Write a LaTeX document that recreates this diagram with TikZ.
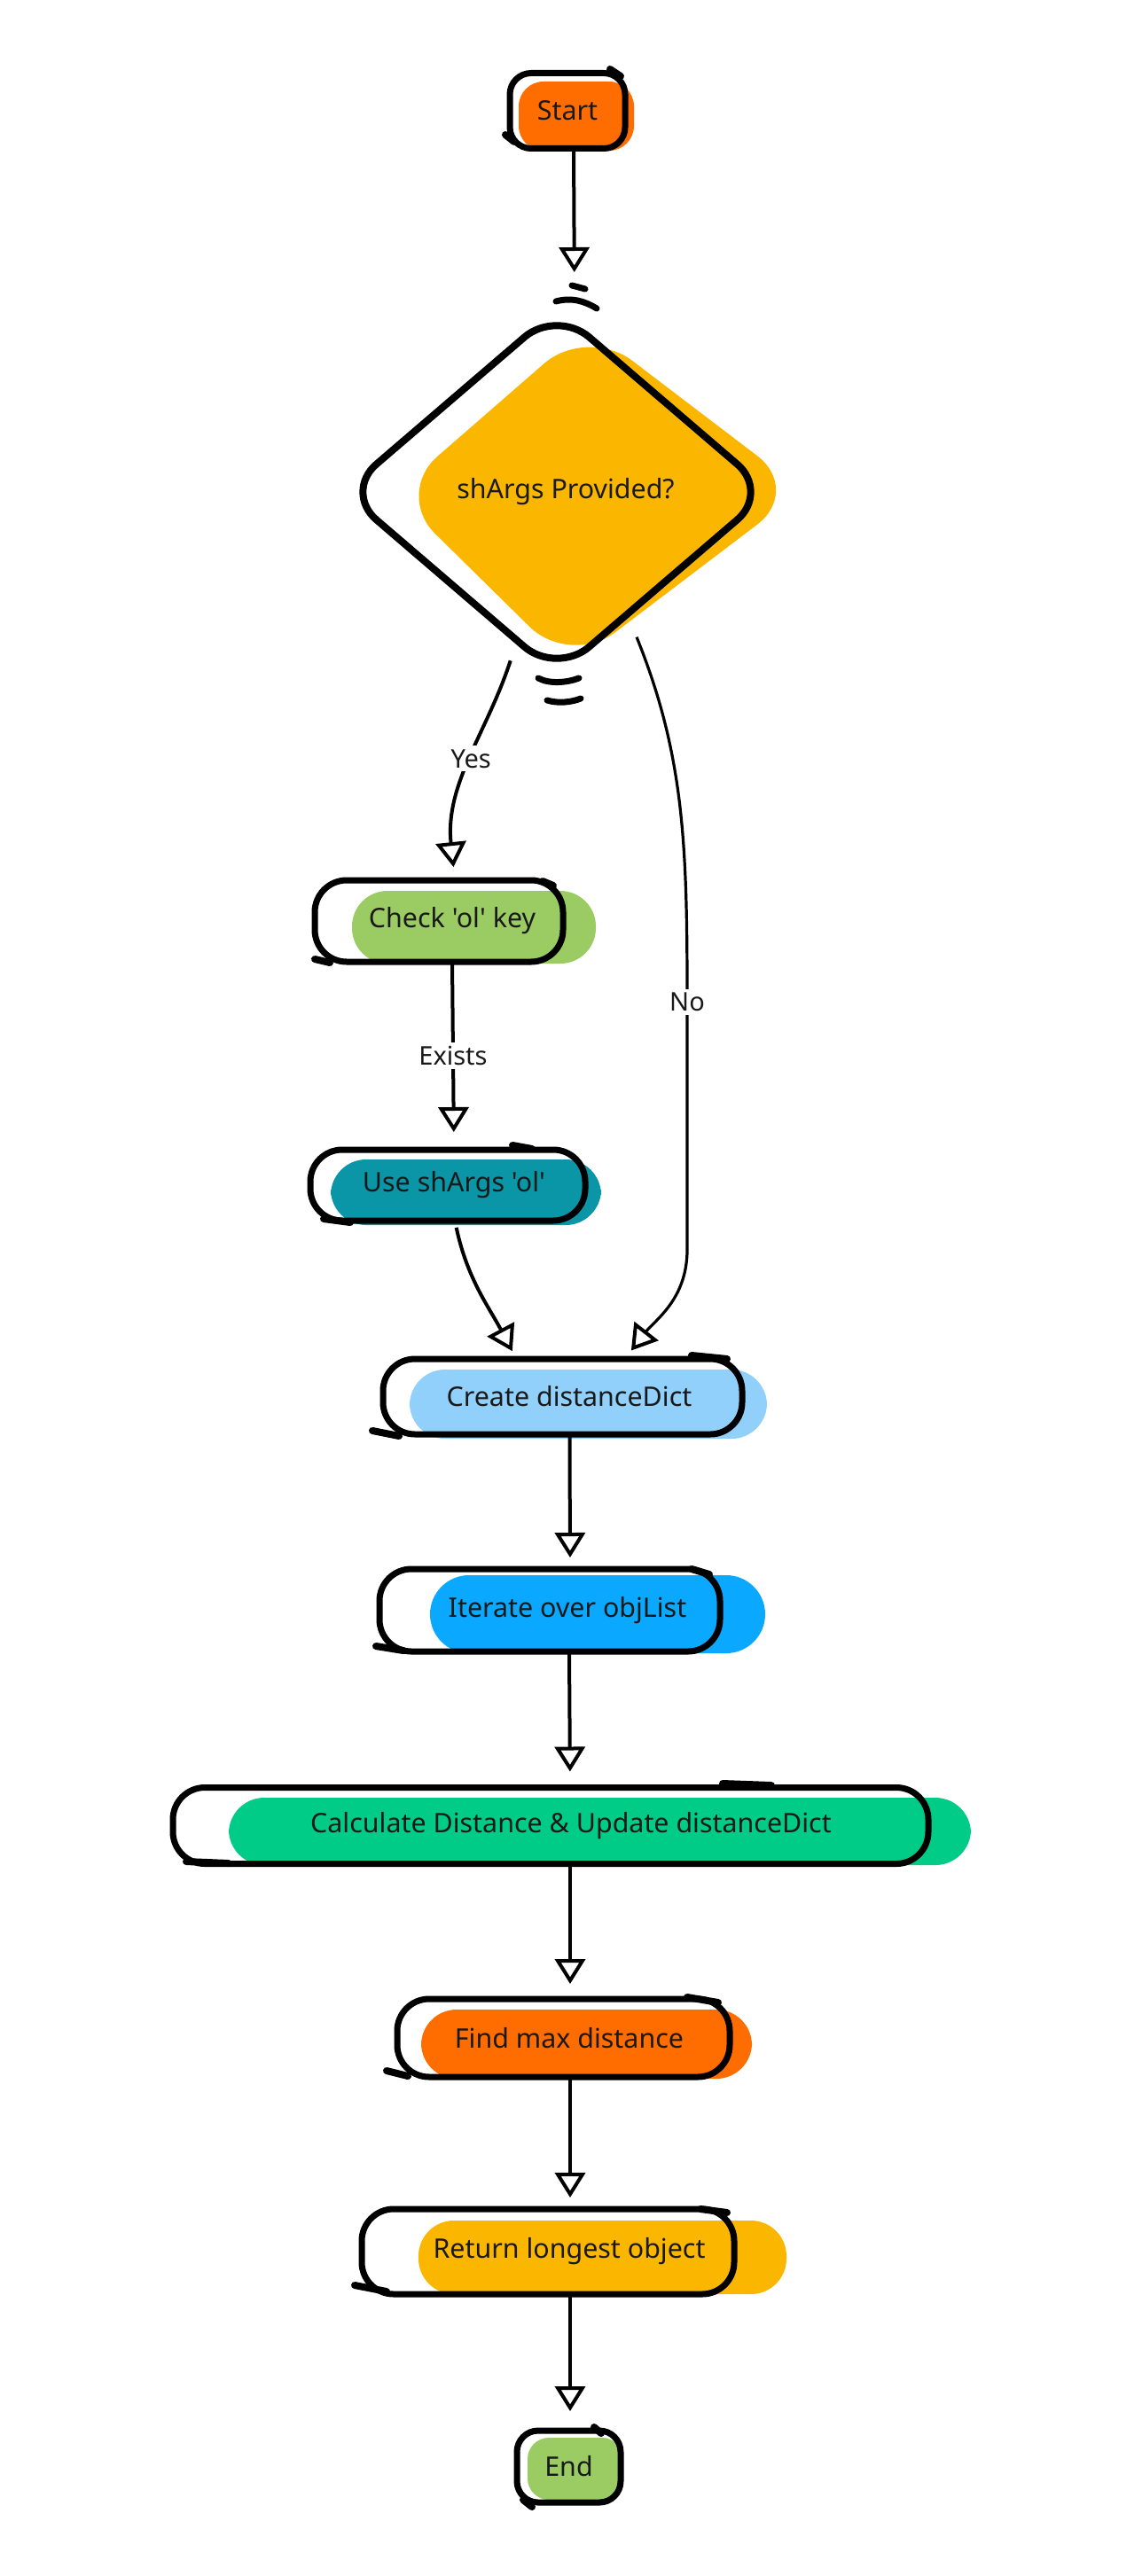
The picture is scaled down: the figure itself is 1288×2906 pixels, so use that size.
\documentclass[tikz,border=0pt]{standalone}
\usepackage{fontspec}
\setmainfont{Noto Sans}[Ligatures=TeXOff]
\usetikzlibrary{arrows.meta,shapes.geometric,calc}
\definecolor{corange}{HTML}{FF6C00}
\definecolor{camber}{HTML}{FBB700}
\definecolor{cgreen}{HTML}{9BCC64}
\definecolor{cteal}{HTML}{0A96A6}
\definecolor{clblue}{HTML}{90D0FA}
\definecolor{cblue}{HTML}{0AA8FF}
\definecolor{cmint}{HTML}{00CC88}
\begin{document}
\begin{tikzpicture}[x=0.5pt,y=-0.5pt,
  box/.style={draw=black, line width=3.5pt, rounded corners=18pt, inner sep=0pt, outer sep=0pt, font=\fontsize{15.2}{18}\selectfont, text=black!90},
  conn/.style={draw=black, line width=2pt, -{Triangle[open, length=14pt, width=17pt, line width=2pt]}},
  lbl/.style={fill=white, font=\fontsize{14.5}{17}\selectfont, inner sep=2pt, text=black!90},
  squig/.style={line width=3.5pt, line cap=round},
  tick/.style={line width=4pt, line cap=round}
]
\useasboundingbox (0,0) rectangle (1288,2906);

% fills (offset washes)
\fill[corange, rounded corners=14pt] (585,92) rectangle (715,170);
\fill[camber, rounded corners=32pt] (445,557) -- (662,368) -- (905,553) -- (643,752) -- cycle;
\fill[cgreen, rounded corners=20pt] (397,1005) rectangle (672,1087);
\fill[cteal, rounded corners=20pt] (373,1308) rectangle (678,1382);
\fill[clblue, rounded corners=20pt] (462,1545) rectangle (865,1623);
\fill[cblue, rounded corners=22pt] (485,1777) rectangle (863,1865);
\fill[cmint, rounded corners=20pt] (258,2028) rectangle (1095,2104);
\fill[corange, rounded corners=20pt] (475,2267) rectangle (848,2345);
\fill[camber, rounded corners=20pt] (472,2505) rectangle (887,2588);
\fill[cgreen, rounded corners=12pt] (595,2750) rectangle (703,2820);

% nodes
\node[box, minimum width=65pt, minimum height=42.5pt, rounded corners=12pt] (start) at (640,125) {Start};
\node[draw=black, diamond, line width=4pt, rounded corners=24pt, minimum width=240pt, minimum height=206pt, inner sep=0pt, outer sep=0pt, font=\fontsize{15.2}{18}\selectfont, text=black!90] (dec) at (628,555) {\hspace*{10pt}shArgs Provided?};
\node[box, minimum width=140pt, minimum height=46pt] (check) at (495,1039) {\hspace*{15pt}Check 'ol' key};
\node[box, minimum width=155pt, minimum height=40pt] (use) at (505,1337) {\hspace*{7pt}Use shArgs 'ol'};
\node[box, minimum width=202.5pt, minimum height=42.5pt] (create) at (634.5,1575.5) {\hspace*{7.5pt}Create distanceDict};
\node[box, minimum width=192pt, minimum height=46.5pt] (iter) at (620,1816.5) {\hspace*{20pt}Iterate over objList};
\node[box, minimum width=426pt, minimum height=43pt] (calc) at (621,2059.5) {\hspace*{23pt}Calculate Distance \& Update distanceDict};
\node[box, minimum width=187.5pt, minimum height=44pt] (find) at (635.5,2299) {\hspace*{6.5pt}Find max distance};
\node[box, minimum width=210pt, minimum height=48pt] (ret) at (618,2540) {\hspace*{24pt}Return longest object};
\node[box, minimum width=58.5pt, minimum height=40.5pt, rounded corners=12pt] (end) at (641.5,2782.5) {End};

% diamond sketch marks
\draw[squig] (627,340) .. controls (645,335) and (660,340) .. (673,348);
\draw[squig] (645,322) -- (660,326);
\draw[squig] (607,765) .. controls (620,772) and (640,770) .. (653,765);
\draw[squig] (617,790) .. controls (630,794) and (645,792) .. (655,788);

% box corner sketch ticks
\draw[tick] (688,78) -- (700,86);   \draw[tick] (570,152) -- (580,160);
\draw[tick] (612,994) -- (624,999);  \draw[tick] (355,1082) -- (372,1086);
\draw[tick] (578,1292) -- (600,1296); \draw[tick] (365,1375) -- (395,1379);
\draw[tick] (780,1529) -- (820,1533); \draw[tick] (420,1614) -- (450,1620);
\draw[tick] (780,1770) -- (800,1776); \draw[tick] (424,1857) -- (455,1862);
\draw[tick] (815,2012) -- (870,2014); \draw[tick] (210,2100) -- (258,2102);
\draw[tick] (775,2253) -- (810,2259); \draw[tick] (436,2336) -- (460,2342);
\draw[tick] (790,2492) -- (820,2496); \draw[tick] (400,2578) -- (436,2585);
\draw[tick] (670,2738) -- (678,2745); \draw[tick] (590,2820) -- (600,2828);

% connectors
\draw[conn, shorten >=21pt] ([xshift=3.5pt]start.south) -- ([xshift=10pt]dec.north);
\draw[conn, shorten <=12pt, shorten >=7.5pt] (dec.-105) to[out=-108,in=96] node[lbl] (yes) {Yes} ([xshift=9pt]check.north);
\draw[conn, shorten <=1pt, shorten >=10pt] ([xshift=7.5pt]check.south) -- node[lbl] (exists) {Exists} ([xshift=3.5pt]use.north);
\draw[conn, shorten <=4pt, shorten >=5pt] ([xshift=4pt]use.south) to[out=-78,in=118] ([xshift=-26pt]create.north);
\coordinate (nob) at (775,1130);
\coordinate (nob2) at (775,1410);
\draw[conn, line width=1.6pt, shorten <=14pt, shorten >=6pt] (dec.-60) to[out=-68,in=90] (nob) -- (nob2) to[out=-90,in=52] ([xshift=35pt]create.north);
\node[lbl] (no) at (nob) {No};
\draw[conn, shorten >=6.5pt] ([xshift=4pt]create.south) -- ([xshift=11.5pt]iter.north);
\draw[conn, shorten >=9pt] ([xshift=11pt]iter.south) -- ([xshift=11pt]calc.north);
\draw[conn, shorten >=8.5pt] ([xshift=11pt]calc.south) -- ([xshift=3.75pt]find.north);
\draw[conn, shorten >=6.5pt] ([xshift=3.75pt]find.south) -- ([xshift=12.5pt]ret.north);
\draw[conn, shorten >=11pt] ([xshift=12.5pt]ret.south) -- ([xshift=0.75pt]end.north);
\end{tikzpicture}
\end{document}
